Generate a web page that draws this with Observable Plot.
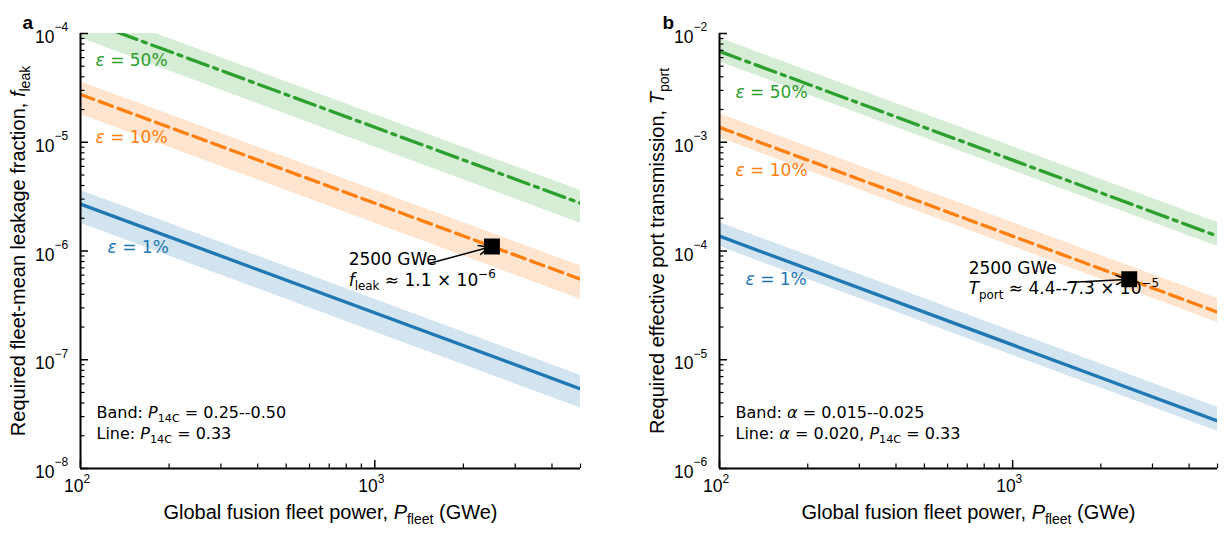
<!DOCTYPE html>
<html><head><meta charset="utf-8">
<script src="https://cdn.jsdelivr.net/npm/d3@7"></script>
<script src="https://cdn.jsdelivr.net/npm/@observablehq/plot@0.6"></script>
<style>
html,body{margin:0;padding:0;background:#fff;}
#wrap{display:flex;width:1225px;height:536px;overflow:hidden;}
</style></head><body><div id="wrap"></div>
<script>
// ---------- data ----------
const fleetPower = [100, 5000];
const epsLabels = ["ε = 1%", "ε = 10%", "ε = 50%"];
const colors = ["#1f77b4", "#ff7f0e", "#2ca02c"];
const dashes = [null, "14,6", "22,6,4,6"];

// panel a : required fleet-mean leakage fraction
const fleakLine1 = [2.7e-6, 5.4e-8];
const fleakLo1 = [1.8e-6, 3.6e-8];
const fleakHi1 = [3.6e-6, 7.2e-8];
const fleakLine10 = [2.75e-5, 5.5e-7];
const fleakLo10 = [1.8e-5, 3.6e-7];
const fleakHi10 = [3.6e-5, 7.3e-7];
const fleakLine50 = [1.37e-4, 2.75e-6];
const fleakLo50 = [9.1e-5, 1.8e-6];
const fleakHi50 = [1.8e-4, 3.6e-6];

// panel b : required effective port transmission
const tportLine1 = [1.37e-4, 2.74e-6];
const tportLo1 = [1.1e-4, 2.2e-6];
const tportHi1 = [1.83e-4, 3.65e-6];
const tportLine10 = [1.37e-3, 2.74e-5];
const tportLo10 = [1.1e-3, 2.2e-5];
const tportHi10 = [1.83e-3, 3.65e-5];
const tportLine50 = [6.85e-3, 1.37e-4];
const tportLo50 = [5.5e-3, 1.1e-4];
const tportHi50 = [9.1e-3, 1.83e-4];

// highlighted point
const markerPower = [2500];
const markerLeak = [1.1e-6];
const markerTport = [5.5e-5];

// ticks
const xTickValues = [100, 1000];
const xTickExps = ["2", "3"];
const yTicksA = [1e-8, 1e-7, 1e-6, 1e-5, 1e-4];
const yExpsA = ["−8", "−7", "−6", "−5", "−4"];
const yTicksB = [1e-6, 1e-5, 1e-4, 1e-3, 1e-2];
const yExpsB = ["−6", "−5", "−4", "−3", "−2"];

function minorTicks(lo, hi) {
  const out = [];
  for (let e = Math.floor(Math.log10(lo)); e <= Math.ceil(Math.log10(hi)); e++)
    for (let m = 2; m <= 9; m++) { const v = m * Math.pow(10, e); if (v >= lo * 0.999 && v <= hi * 1.001) out.push(v); }
  return out;
}

// ---------- rich text (sub/superscript, italics) ----------
function rich(svg) {
  svg.querySelectorAll("text").forEach(t => {
    if (t.querySelector("tspan")) return;
    const s = t.textContent;
    if (!/[_^$]/.test(s)) return;
    const parts = s.split(/(_\{[^}]*\}|\^\{[^}]*\}|\$[^$]*\$)/).filter(p => p !== "");
    t.textContent = "";
    let off = 0;
    for (const p of parts) {
      const ts = document.createElementNS("http://www.w3.org/2000/svg", "tspan");
      let target = 0, small = false, txt = p;
      if (p.startsWith("_{")) { target = 0.25; small = true; txt = p.slice(2, -1); }
      else if (p.startsWith("^{")) { target = -0.45; small = true; txt = p.slice(2, -1); }
      else if (p.startsWith("$")) { ts.setAttribute("font-style", "italic"); txt = p.slice(1, -1); }
      const k = small ? 0.7 : 1;
      if (small) ts.setAttribute("font-size", "70%");
      const d = target - off;
      if (d !== 0) ts.setAttribute("dy", (d / k).toFixed(3) + "em");
      off = target;
      ts.textContent = txt;
      t.appendChild(ts);
    }
  });
}

const ANN = "DejaVu Sans";

function makePanel(o) {
  const marks = [];
  o.series.forEach((s, i) => {
    const rows = fleetPower.map((P, j) => ({P, lo: s.lo[j], hi: s.hi[j]}));
    marks.push(Plot.areaY(rows, {x: "P", y1: "lo", y2: "hi", fill: colors[i], fillOpacity: 0.2, clip: true}));
  });
  o.series.forEach((s, i) => {
    const rows = fleetPower.map((P, j) => ({P, y: s.line[j]}));
    marks.push(Plot.line(rows, {x: "P", y: "y", stroke: colors[i], strokeWidth: 3.3, strokeDasharray: dashes[i], clip: true}));
  });
  o.series.forEach((s, i) => {
    marks.push(Plot.text([s.label], {x: s.lx, y: s.ly, text: d => d, textAnchor: "start", fill: colors[i], fontFamily: ANN, fontSize: 17}));
  });
  marks.push(Plot.dot(markerPower.map((P, j) => ({P, v: o.marker[j]})), {x: "P", y: "v", symbol: "square", r: 9, fill: "black", stroke: "none"}));
  marks.push(Plot.arrow([o.arrow], {x1: "x1", y1: "y1", x2: "x2", y2: "y2", stroke: "black", strokeWidth: 1.5, headLength: 11, headAngle: 50, insetEnd: 3}));
  o.ann.forEach(a => marks.push(Plot.text([a.t], {x: a.x, y: a.y, text: d => d, textAnchor: "start", fill: "black", fontFamily: ANN, fontSize: 17})));
  o.notes.forEach((n, k) => marks.push(Plot.text([n], {frameAnchor: "bottom-left", dx: 16, dy: k === 0 ? -51 : -30, text: d => d, textAnchor: "start", fontFamily: ANN, fontSize: 16})));
  const xMinor = minorTicks(fleetPower[0], fleetPower[1]);
  const yMinor = minorTicks(o.ydomain[0], o.ydomain[1]);
  marks.push(Plot.axisX(xTickValues, {tickSize: 8, dy: -8, tickFormat: () => "", label: null, strokeWidth: 1.5}));
  marks.push(Plot.axisX(xMinor, {tickSize: 4.5, dy: -4.5, tickFormat: () => "", label: null, strokeWidth: 1.2}));
  marks.push(Plot.axisY(o.yTicks, {tickSize: 8, dx: 8, tickFormat: () => "", label: null, strokeWidth: 1.5}));
  marks.push(Plot.axisY(yMinor, {tickSize: 4.5, dx: 4.5, tickFormat: () => "", label: null, strokeWidth: 1.2}));
  marks.push(Plot.ruleX([fleetPower[0]], {stroke: "black", strokeWidth: 2}));
  marks.push(Plot.ruleY([o.ydomain[0]], {stroke: "black", strokeWidth: 2}));
  marks.push(Plot.text(xTickValues, {x: d => d, frameAnchor: "bottom", text: () => "10", textAnchor: "end", dx: 3, dy: 23, fontSize: 17.5}));
  marks.push(Plot.text(xTickValues, {x: d => d, frameAnchor: "bottom", text: (d, i) => xTickExps[i], textAnchor: "start", dx: 3, dy: 14, fontSize: 12}));
  marks.push(Plot.text(o.yTicks, {y: d => d, frameAnchor: "left", text: () => "10", textAnchor: "end", dx: -26, dy: 4, fontSize: 17.5}));
  marks.push(Plot.text(o.yTicks, {y: d => d, frameAnchor: "left", text: (d, i) => o.yExps[i], textAnchor: "start", dx: -26, dy: -6, fontSize: 12}));
  marks.push(Plot.text([o.ytitle], {frameAnchor: "left", rotate: -90, dx: -62, text: d => d, textAnchor: "middle", fontSize: 20}));
  marks.push(Plot.text([o.xtitle], {frameAnchor: "bottom", dy: 50, text: d => d, textAnchor: "middle", fontSize: 20}));
  marks.push(Plot.text([o.letter], {frameAnchor: "top-left", dx: o.letterDx, dy: -18, text: d => d, textAnchor: "start", fontWeight: "bold", fontSize: 19}));

  const svg = Plot.plot({
    width: o.width, height: 536,
    marginLeft: o.ml, marginRight: o.mr, marginTop: 33, marginBottom: 68,
    x: {type: "log", domain: fleetPower, axis: null},
    y: {type: "log", domain: o.ydomain, axis: null},
    style: {fontFamily: "'Liberation Sans', Arial, sans-serif", fontSize: "16px", color: "black", background: "white", overflow: "visible"},
    marks
  });
  rich(svg);
  return svg;
}

const wrap = document.getElementById("wrap");
wrap.appendChild(makePanel({
  width: 612, ml: 80, mr: 32, ydomain: [1e-8, 1e-4], yTicks: yTicksA, yExps: yExpsA,
  series: [
    {line: fleakLine1, lo: fleakLo1, hi: fleakHi1, label: "$ε$ = 1%", lx: 123.6, ly: 1.08e-6},
    {line: fleakLine10, lo: fleakLo10, hi: fleakHi10, label: "$ε$ = 10%", lx: 112.5, ly: 1.11e-5},
    {line: fleakLine50, lo: fleakLo50, hi: fleakHi50, label: "$ε$ = 50%", lx: 112.5, ly: 5.65e-5}
  ],
  marker: markerLeak,
  arrow: {x1: 1528, y1: 7.67e-7, x2: markerPower[0], y2: markerLeak[0]},
  ann: [{t: "2500 GWe", x: 815, y: 8.43e-7}, {t: "$f$_{leak} ≈ 1.1 × 10^{−6}", x: 815, y: 5.35e-7}],
  notes: ["Band: $P$_{14C} = 0.25--0.50", "Line: $P$_{14C} = 0.33"],
  ytitle: "Required fleet-mean leakage fraction, $f$_{leak}",
  xtitle: "Global fusion fleet power, $P$_{fleet} (GWe)",
  letter: "a", letterDx: -58
}));
wrap.appendChild(makePanel({
  width: 613, ml: 107, mr: 8, ydomain: [1e-6, 1e-2], yTicks: yTicksB, yExps: yExpsB,
  series: [
    {line: tportLine1, lo: tportLo1, hi: tportHi1, label: "$ε$ = 1%", lx: 122.7, ly: 5.47e-5},
    {line: tportLine10, lo: tportLo10, hi: tportHi10, label: "$ε$ = 10%", lx: 113.4, ly: 5.5e-4},
    {line: tportLine50, lo: tportLo50, hi: tportHi50, label: "$ε$ = 50%", lx: 113.4, ly: 2.86e-3}
  ],
  marker: markerTport,
  arrow: {x1: 1542, y1: 5.13e-5, x2: markerPower[0], y2: markerTport[0]},
  ann: [{t: "2500 GWe", x: 708, y: 6.87e-5}, {t: "$T$_{port} ≈ 4.4--7.3 × 10^{−5}", x: 708, y: 4.48e-5}],
  notes: ["Band: $α$ = 0.015--0.025", "Line: $α$ = 0.020, $P$_{14C} = 0.33"],
  ytitle: "Required effective port transmission, $T$_{port}",
  xtitle: "Global fusion fleet power, $P$_{fleet} (GWe)",
  letter: "b", letterDx: -57
}));
</script></body></html>
